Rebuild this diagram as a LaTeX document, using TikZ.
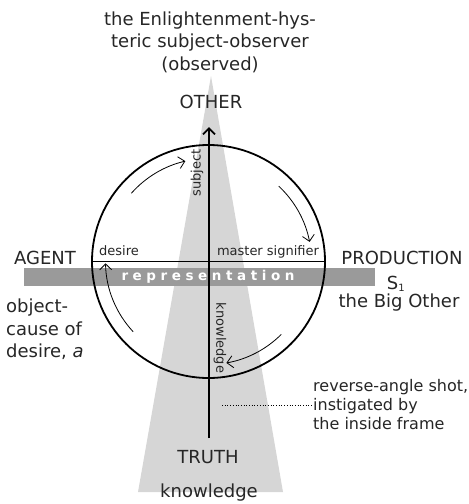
\documentclass[tikz,border=0pt]{standalone}
\usepackage{fontspec}
\setmainfont{DejaVu Sans}
\usetikzlibrary{arrows.meta}
\definecolor{beam}{HTML}{D6D6D6}
\definecolor{barc}{HTML}{9A9A9A}
\begin{document}
\begin{tikzpicture}[x=1pt,y=-1pt,
  big/.style={font=\fontsize{18}{22.5}\selectfont, text=black!85, inner sep=0pt},
  small/.style={font=\fontsize{13}{15}\selectfont, text=black!85, inner sep=0pt},
  note/.style={font=\fontsize{16}{19}\selectfont, text=black!85, inner sep=0pt, align=left},
  turn/.style={line width=0.8pt, -{Straight Barb[length=6pt,width=12pt]}}]
\useasboundingbox (0,0) rectangle (469,504);
% beam
\fill[beam] (211,76) -- (283,492) -- (138,492) -- cycle;
% representation bar
\node[fill=barc, minimum width=351pt, minimum height=18pt, inner sep=0pt, anchor=north west] (bar) at (24,268) {};
\node[font=\bfseries\fontsize{13.5}{14}\selectfont, text=white, inner sep=0pt] (rep) at (208,277) {\makebox[173pt][s]{r\hfill e\hfill p\hfill r\hfill e\hfill s\hfill e\hfill n\hfill t\hfill a\hfill t\hfill i\hfill o\hfill n}};
% circle
\coordinate (c) at (208.5,261.5);
\node[circle, draw, line width=1.8pt, minimum size=233pt, inner sep=0pt] (circ) at (c) {};
\draw[line width=0.9pt] (circ.west) -- (circ.east);
% axis
\coordinate (top) at (209,127);
\coordinate (bot) at (209,438);
\draw[line width=1.8pt, -{Straight Barb[length=6pt,width=12pt]}] (bot) -- (top);
% rotating arrows
\draw[turn] ([shift={(138.5:103pt)}]c) arc[start angle=138.5, end angle=103, radius=103pt];
\draw[turn] ([shift={(47:103pt)}]c) arc[start angle=47, end angle=11, radius=103pt];
\draw[turn] ([shift={(-45:103pt)}]c) arc[start angle=-45, end angle=-80, radius=103pt];
\draw[turn] ([shift={(-137:103pt)}]c) arc[start angle=-137, end angle=-179, radius=103pt];
% labels
\node[big, align=center] (obs) at (210,42) {the Enlightenment-hys-\\teric subject-observer\\(observed)};
\node[big] (other) at (211,102) {OTHER};
\node[big] (agent) at (45,258) {AGENT};
\node[big] (prod) at (402,258) {PRODUCTION};
\node[big] (s1) at (396,284) {S\textsubscript{\fontsize{10}{11}\selectfont 1}};
\node[big] (bigo) at (399,303) {the Big Other};
\node[big, align=left, anchor=north west] (obj) at (6,299) {object-\\cause of\\desire, \emph{a}};
\node[big] (truth) at (208,457) {TRUTH};
\node[big] (know) at (209,493) {knowledge};
\node[small] (des) at (119,251) {desire};
\node[small] (ms) at (268,252) {master signifier};
\node[small, rotate=90] (subj) at (197,173) {subject};
\node[small, rotate=-90] (kn) at (220,338) {knowledge};
\node[note, anchor=west] (rev) at (313,405) {reverse-angle shot,\\instigated by\\the inside frame};
\coordinate (dotl) at (222,405);
\draw[dotted, line width=0.7pt] (dotl) -- (rev.west);
\end{tikzpicture}
\end{document}
